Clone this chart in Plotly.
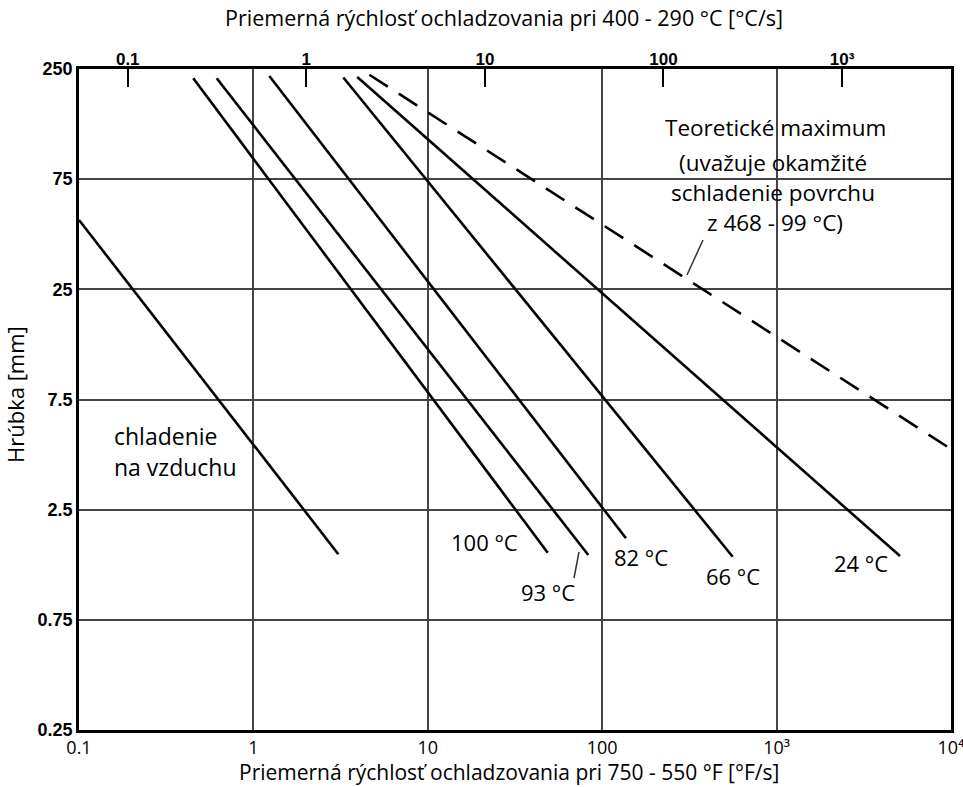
import plotly.graph_objects as go

# ---------------- data (x in °F/s, y in mm) ----------------
air_x = [0.1, 3.07]
air_y = [51.6, 1.57]
c100_x = [0.452, 48.7]
c100_y = [226.9, 1.594]
c93_x = [0.616, 83.2]
c93_y = [227.0, 1.556]
c82_x = [1.234, 136.9]
c82_y = [232.4, 1.853]
c66_x = [3.28, 560.0]
c66_y = [228.8, 1.529]
c24_x = [3.94, 5100.0]
c24_y = [229.9, 1.54]
theor_x = [4.62, 10000.0]
theor_y = [235.5, 4.71]

bottom_tick_vals = [0.1, 1, 10, 100, 1000, 10000]
bottom_tick_text = ["0.1", "1", "10", "100", "10³", "10⁴"]
top_tick_vals = [0.1, 1, 10, 100, 1000]
top_tick_text = ["0.1", "1", "10", "100", "10³"]
y_tick_vals = [250, 79.06, 25, 7.906, 2.5, 0.7906, 0.25]
y_tick_text = ["250", "75", "25", "7.5", "2.5", "0.75", "0.25"]

# ---------------- layout geometry ----------------
W, H = 963, 787
L, R, T, B = 79, 951, 69, 730
FONT = "Open Sans"
BOLD = "Liberation Sans"


def xp(x):
    return (x - L) / (R - L)


def yp(y):
    return (B - y) / (B - T)


fig = go.Figure()

line_style = dict(color="black", width=2.6)
for xs, ys in [(air_x, air_y), (c100_x, c100_y), (c93_x, c93_y), (c82_x, c82_y),
               (c66_x, c66_y), (c24_x, c24_y)]:
    fig.add_trace(go.Scatter(x=xs, y=ys, mode="lines", line=line_style,
                             showlegend=False, hoverinfo="skip"))
fig.add_trace(go.Scatter(x=theor_x, y=theor_y, mode="lines",
                         line=dict(color="black", width=2.6, dash="22px,13px"),
                         showlegend=False, hoverinfo="skip"))
# invisible trace so the top (°C/s) axis is drawn
fig.add_trace(go.Scatter(x=top_tick_vals, y=[None] * len(top_tick_vals), xaxis="x2",
                         mode="markers", showlegend=False, hoverinfo="skip"))

annotations = []


def txt(text, x, y, size=20, xanchor="center", angle=0, family=FONT):
    annotations.append(dict(text=text, x=xp(x), y=yp(y), xref="paper", yref="paper",
                            showarrow=False, xanchor=xanchor, yanchor="middle",
                            textangle=angle, font=dict(family=family, size=size, color="black")))


txt("Priemerná rýchlosť ochladzovania pri 400 - 290 °C [°C/s]", 504, 18, 21.5)
txt("Priemerná rýchlosť ochladzovania pri 750 - 550 °F [°F/s]", 509, 771.5, 21)
txt("Hrúbka [mm]", 15, 395, 22, angle=-90)

txt("chladenie", 112, 436, 23, xanchor="left")
txt("na vzduchu", 112, 467, 23, xanchor="left")
txt("100 °C", 484, 542, 22)
txt("93 °C", 548, 592, 22)
txt("82 °C", 641, 557, 22)
txt("66 °C", 733, 576, 22)
txt("24 °C", 861, 563, 22)
txt("Teoretické maximum", 775, 128, 22.5)
txt("(uvažuje okamžité", 772.5, 162, 22.5)
txt("schladenie povrchu", 772.5, 192, 22.5)
txt("z 468 - 99 °C)", 775, 222, 22.5)

shapes = [
    dict(type="rect", xref="paper", yref="paper", x0=xp(636), x1=xp(893), y0=yp(233), y1=yp(103),
         fillcolor="white", line=dict(width=0), layer="below"),
    dict(type="line", xref="paper", yref="paper", x0=xp(574), y0=yp(578), x1=xp(579), y1=yp(552),
         line=dict(color="#333", width=1.5)),
    dict(type="line", xref="paper", yref="paper", x0=xp(703), y0=yp(240), x1=xp(687), y1=yp(275),
         line=dict(color="#333", width=1.5)),
]

fig.update_layout(
    width=W, height=H, autosize=False,
    margin=dict(l=L, r=W - R, t=T, b=H - B),
    paper_bgcolor="white", plot_bgcolor="white",
    annotations=annotations, shapes=shapes,
    xaxis=dict(type="log", range=[-1, 4], tickvals=bottom_tick_vals, ticktext=bottom_tick_text,
               automargin=False, ticklabeloverflow="allow",
               showgrid=True, gridcolor="#444", gridwidth=1.5, zeroline=False,
               showline=True, linecolor="black", linewidth=2.5, mirror=True, ticks="",
               tickfont=dict(family=FONT, size=18, color="black")),
    xaxis2=dict(type="log", range=[-1.273, 3.610], overlaying="x", side="top", anchor="y",
                automargin=False, tickvals=top_tick_vals, ticktext=top_tick_text,
                showgrid=False, zeroline=False,
                ticks="inside", ticklen=18, tickwidth=1.5, tickcolor="black",
                tickfont=dict(family=BOLD, size=17, color="black", weight="bold")),
    yaxis=dict(type="log", range=[-0.60206, 2.39794], tickvals=y_tick_vals, ticktext=y_tick_text,
               automargin=False, showgrid=True, gridcolor="#444", gridwidth=1.5, zeroline=False,
               showline=True, linecolor="black", linewidth=2.5, mirror=True, ticks="",
               tickfont=dict(family=BOLD, size=18, color="black", weight="bold")),
)

fig.write_html("out.html")
